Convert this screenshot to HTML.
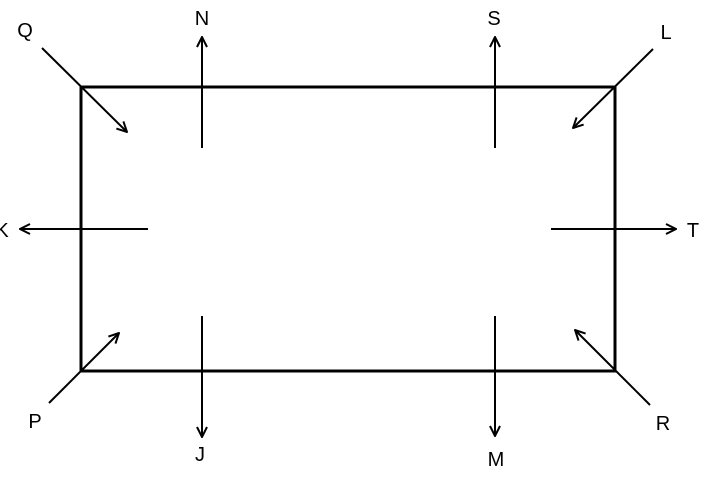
<!DOCTYPE html>
<html><head><meta charset="utf-8"><style>
html,body{margin:0;padding:0;background:#fff;width:726px;height:482px;overflow:hidden}
svg text{font-family:"Liberation Sans",sans-serif;font-size:20px;fill:#000}
</style></head><body>
<svg width="726" height="482" viewBox="0 0 726 482">
<defs><marker id="a" viewBox="0 0 12 12" refX="11" refY="6" markerWidth="12" markerHeight="12" markerUnits="userSpaceOnUse" orient="auto">
<path d="M1,1 L11,6 L1,11" fill="none" stroke="#000" stroke-width="2"/></marker></defs>
<rect x="81" y="87" width="534" height="284" fill="none" stroke="#000" stroke-width="3"/>
<g stroke="#000" stroke-width="2" fill="none" marker-end="url(#a)">
<line x1="42" y1="48" x2="127" y2="132"/>
<line x1="202" y1="148" x2="202" y2="37"/>
<line x1="495" y1="148" x2="495" y2="37"/>
<line x1="653" y1="49" x2="573" y2="128"/>
<line x1="148" y1="229" x2="20" y2="229"/>
<line x1="551" y1="229" x2="676" y2="229"/>
<line x1="49" y1="403" x2="119" y2="333"/>
<line x1="202" y1="316" x2="202" y2="437"/>
<line x1="495" y1="316" x2="495" y2="436"/>
<line x1="650" y1="405" x2="575" y2="330"/>
</g>
<g text-anchor="middle">
<text x="25" y="37">Q</text>
<text x="202" y="25">N</text>
<text x="494" y="25">S</text>
<text x="666" y="39">L</text>
<text x="2" y="237">K</text>
<text x="693" y="237">T</text>
<text x="35" y="428">P</text>
<text x="200" y="461">J</text>
<text x="663" y="430">R</text>
<text x="496" y="466">M</text>
</g>
</svg>
</body></html>
